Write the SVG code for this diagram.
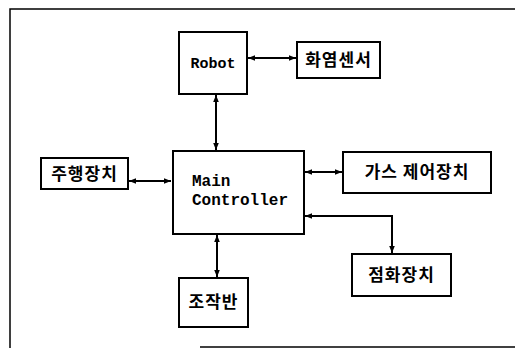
<svg xmlns="http://www.w3.org/2000/svg" width="515" height="349" viewBox="0 0 515 349">
<defs>
<marker id="ah" viewBox="0 0 10 10" refX="10" refY="5" markerWidth="7" markerHeight="7" orient="auto-start-reverse" markerUnits="userSpaceOnUse">
<path d="M0,1 L10,5 L0,9 Z" fill="#000"/>
</marker>
<style>
.box{fill:#fff;stroke:#000;stroke-width:2}
.frame{fill:none;stroke:#000;stroke-width:1.5}
.conn{fill:none;stroke:#000;stroke-width:2;marker-start:url(#ah);marker-end:url(#ah)}
.ko{font-family:"Noto Sans CJK KR","Noto Sans",sans-serif;font-weight:bold;font-size:17px;text-anchor:middle;letter-spacing:1px}
.en{font-family:"Liberation Mono","DejaVu Sans Mono",monospace;font-weight:bold;font-size:16px}
</style>
</defs>
<rect width="515" height="349" fill="#fff"/>
<g id="frame">
<path class="frame" d="M10,348 L10,9 L515,9"/>
<path class="frame" d="M200,347 L515,347"/>
</g>
<g id="connectors">
<path class="conn" d="M248,58 L296,58"/>
<path class="conn" d="M216,95 L216,150"/>
<path class="conn" d="M129,181 L171,181"/>
<path class="conn" d="M305,172 L342,172"/>
<path class="conn" d="M305,216 L392,216 L392,253"/>
<path class="conn" d="M217,235 L217,277"/>
</g>
<g id="robot">
<rect class="box" x="179" y="32" width="68" height="62"/>
<text class="en" x="213" y="68" text-anchor="middle" style="font-size:15px">Robot</text>
</g>
<g id="flame-sensor">
<rect class="box" x="297" y="42" width="83" height="36"/>
<text class="ko" x="338.5" y="66">화염센서</text>
</g>
<g id="main-controller">
<rect class="box" x="173" y="151" width="131" height="83"/>
<text class="en" x="192" y="186">Main</text>
<text class="en" x="192" y="205">Controller</text>
</g>
<g id="drive-unit">
<rect class="box" x="41" y="158" width="87" height="31"/>
<text class="ko" x="84.5" y="180">주행장치</text>
</g>
<g id="gas-control">
<rect class="box" x="343" y="152" width="148" height="41"/>
<text class="ko" x="417" y="178">가스 제어장치</text>
</g>
<g id="ignition">
<rect class="box" x="352" y="254" width="99" height="42"/>
<text class="ko" x="401.5" y="281">점화장치</text>
</g>
<g id="control-panel">
<rect class="box" x="179" y="278" width="69" height="49"/>
<text class="ko" x="213.5" y="308">조작반</text>
</g>
</svg>
